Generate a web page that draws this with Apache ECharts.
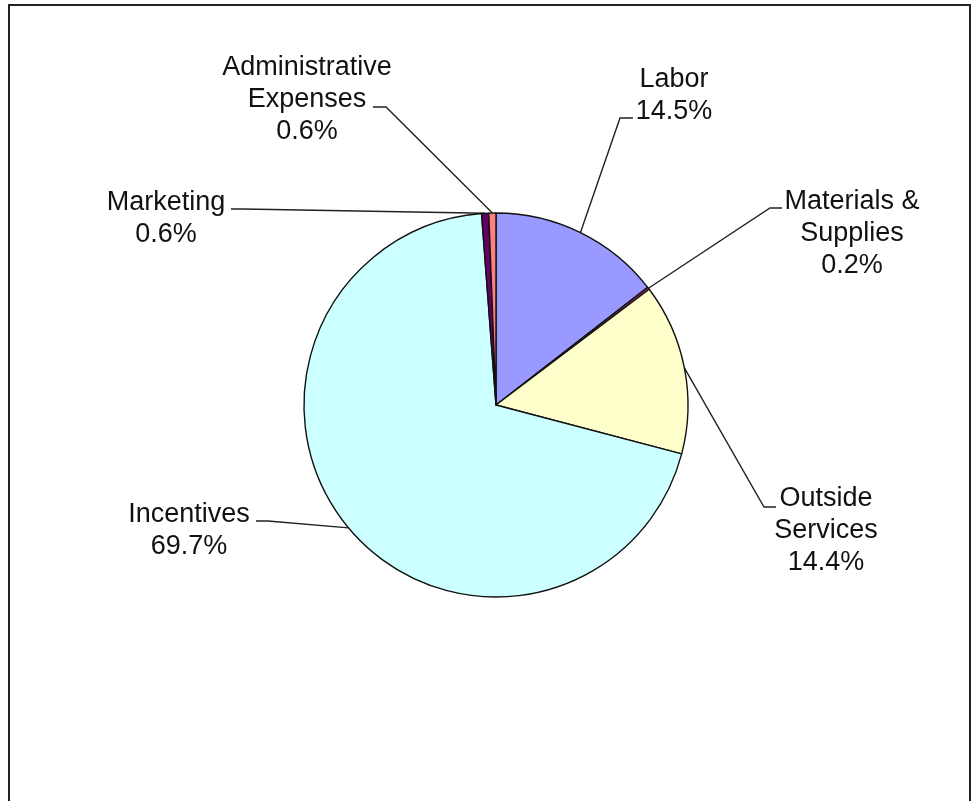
<!DOCTYPE html>
<html>
<head>
<meta charset="utf-8">
<script src="https://cdn.jsdelivr.net/npm/echarts@6/dist/echarts.min.js"></script>
<style>
  html, body { margin: 0; padding: 0; background: #ffffff; }
  #chart { width: 971px; height: 801px; }
</style>
</head>
<body>
<div id="chart"></div>
<script>
// Cost categories and their share of the total (percent)
const categories = ['Labor', 'Materials &\nSupplies', 'Outside\nServices', 'Incentives', 'Marketing', 'Administrative\nExpenses'];
const shares = [14.5, 0.2, 14.4, 69.7, 0.6, 0.6];
const sliceColors = ['#9999FF', '#993366', '#FFFFCC', '#CCFFFF', '#660066', '#FF8080'];

// Pie geometry
const CX = 496, CY = 405, R = 192;

// Where each label block sits (center x, top y) and where its leader line bends
const labelSpots = [
  { x: 674, y: 64,  bend: [620, 118], tail: [633, 118] },
  { x: 852, y: 186, bend: [770, 208], tail: [782, 208] },
  { x: 826, y: 483, bend: [764, 507], tail: [776, 507] },
  { x: 189, y: 499, bend: [268, 521], tail: [256, 521] },
  { x: 166, y: 187, bend: [243, 209], tail: [231, 209] },
  { x: 307, y: 52,  bend: [386, 107], tail: [373, 107] }
];

// Point on the rim at the middle of a slice (clockwise from 12 o'clock)
function rimPoint(idx) {
  const total = shares.reduce((a, b) => a + b, 0);
  let before = 0;
  for (let i = 0; i < idx; i++) before += shares[i];
  const mid = (before + shares[idx] / 2) / total * Math.PI * 2;
  return [CX + R * Math.sin(mid), CY - R * Math.cos(mid)];
}

const chart = echarts.init(document.getElementById('chart'), null, { renderer: 'canvas' });

chart.setOption({
  backgroundColor: '#ffffff',
  animation: false,
  graphic: [{
    type: 'rect',
    shape: { x: 9, y: 5, width: 961, height: 820 },
    style: { fill: 'none', stroke: '#222', lineWidth: 2 },
    silent: true,
    z: 0
  }],
  series: [{
    type: 'pie',
    center: [CX, CY],
    radius: R,
    startAngle: 90,
    clockwise: true,
    avoidLabelOverlap: false,
    data: categories.map((name, i) => ({
      name: name,
      value: shares[i],
      itemStyle: { color: sliceColors[i] }
    })),
    itemStyle: { borderColor: '#111', borderWidth: 1.4 },
    emphasis: { disabled: true },
    label: {
      show: true,
      position: 'outside',
      formatter: p => p.name + '\n' + p.value.toFixed(1) + '%',
      fontFamily: 'Liberation Sans, Arial, sans-serif',
      fontSize: 27,
      lineHeight: 32,
      color: '#111',
      align: 'center'
    },
    labelLine: {
      show: true,
      lineStyle: { color: '#222', width: 1.4 }
    },
    labelLayout: function (params) {
      const s = labelSpots[params.dataIndex];
      return {
        x: s.x,
        y: s.y,
        align: 'center',
        verticalAlign: 'top',
        labelLinePoints: [rimPoint(params.dataIndex), s.bend, s.tail]
      };
    }
  }]
});
</script>
</body>
</html>
